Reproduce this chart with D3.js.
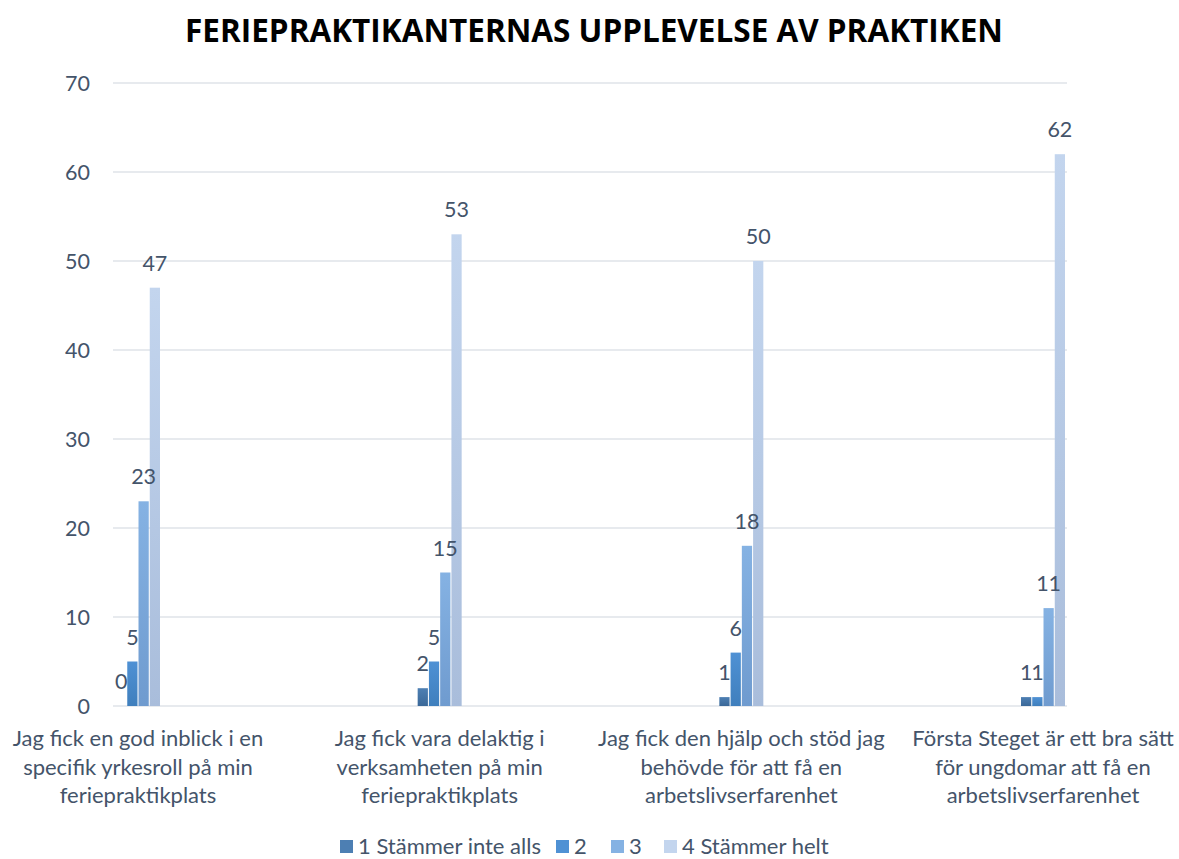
<!DOCTYPE html>
<html>
<head>
<meta charset="utf-8">
<script src="https://cdn.jsdelivr.net/npm/d3@7"></script>
<style>
  body { margin: 0; background: #fff; }
  text { font-family: Lato, "Open Sans", sans-serif; }
</style>
</head>
<body>
<svg width="1179" height="859"></svg>
<script>
// chart data
const categories = ['c1', 'c2', 'c3', 'c4'];
const categoryLabels = [
  ['Jag fick en god inblick i en', 'specifik yrkesroll på min', 'feriepraktikplats'],
  ['Jag fick vara delaktig i', 'verksamheten på min', 'feriepraktikplats'],
  ['Jag fick den hjälp och stöd jag', 'behövde för att få en', 'arbetslivserfarenhet'],
  ['Första Steget är ett bra sätt', 'för ungdomar att få en', 'arbetslivserfarenhet']
];
const seriesNames = ['1 Stämmer inte alls', '2', '3', '4 Stämmer helt'];
const s1 = [0, 2, 1, 1];
const s2 = [5, 5, 6, 1];
const s3 = [23, 15, 18, 11];
const s4 = [47, 53, 50, 62];
const yTicks = [0, 10, 20, 30, 40, 50, 60, 70];

const seriesValues = [s1, s2, s3, s4];
// light/dark ends of each bar gradient
const barColors = [
  ['#4d7fb3', '#3a6898'],
  ['#4f91d4', '#3f7fbd'],
  ['#85b2e3', '#6f9bcf'],
  ['#c3d5ee', '#a9bddb']
];

const svg = d3.select('svg');
const textColor = '#44546a';

// title
svg.append('text')
  .attr('x', 594).attr('y', 42)
  .attr('text-anchor', 'middle')
  .style('font-family', '"Open Sans", sans-serif')
  .style('font-weight', 'bold')
  .style('font-size', '31.5px')
  .attr('fill', '#000')
  .text('FERIEPRAKTIKANTERNAS UPPLEVELSE AV PRAKTIKEN');

// scales
const yScale = d3.scaleLinear().domain([0, 70]).range([706, 83]);
const xScale = d3.scalePoint().domain(categories).range([138, 1043]);
const xInner = d3.scaleBand().domain(d3.range(seriesNames.length))
  .range([-22, 22]).paddingInner(0.09);

// gradients
const defs = svg.append('defs');
barColors.forEach((c, i) => {
  const g = defs.append('linearGradient')
    .attr('id', 'grad' + i)
    .attr('x1', 0).attr('y1', 0).attr('x2', 0).attr('y2', 1);
  g.append('stop').attr('offset', '0%').attr('stop-color', c[0]);
  g.append('stop').attr('offset', '100%').attr('stop-color', c[1]);
});

// gridlines
svg.append('g').selectAll('line').data(yTicks).enter().append('line')
  .attr('x1', 113).attr('x2', 1067)
  .attr('y1', d => yScale(d)).attr('y2', d => yScale(d))
  .attr('stroke', '#dfe3e9').attr('stroke-width', 1.6);

// y axis labels
svg.append('g').selectAll('text').data(yTicks).enter().append('text')
  .attr('x', 90).attr('y', d => yScale(d) + 7.5)
  .attr('text-anchor', 'end')
  .style('font-size', '21.5px')
  .attr('fill', textColor)
  .text(d => d);

// flat list of cells: category index + series index
const cells = [];
categories.forEach((c, ci) => seriesValues.forEach((vals, si) => {
  cells.push({ cat: c, si: si, v: vals[ci] });
}));
const cx = d => xScale(d.cat) + xInner(d.si);

// bars
svg.append('g').selectAll('rect').data(cells).enter().append('rect')
  .attr('x', cx)
  .attr('width', xInner.bandwidth())
  .attr('y', d => yScale(d.v))
  .attr('height', d => yScale(0) - yScale(d.v))
  .attr('fill', d => `url(#grad${d.si})`);

// data labels (drawn on top of all bars)
svg.append('g').selectAll('text').data(cells).enter().append('text')
  .attr('x', d => cx(d) + xInner.bandwidth() / 2)
  .attr('y', d => yScale(d.v) - 17)
  .attr('text-anchor', 'middle')
  .style('font-size', '21.5px')
  .attr('fill', textColor)
  .text(d => d.v);

// category labels
const catText = svg.append('g').selectAll('text').data(categories).enter().append('text')
  .attr('text-anchor', 'middle')
  .style('font-size', '22px')
  .attr('fill', textColor);
catText.each(function (d, i) {
  d3.select(this).selectAll('tspan').data(categoryLabels[i]).enter().append('tspan')
    .attr('x', xScale(d))
    .attr('y', (l, j) => 746 + j * 28.5)
    .text(l => l);
});

// legend
const legendX = [340, 556, 611, 664];
const legend = svg.append('g').selectAll('g').data(seriesNames).enter().append('g')
  .attr('transform', (d, i) => `translate(${legendX[i]},840)`);
legend.append('rect')
  .attr('width', 13).attr('height', 13)
  .attr('fill', (d, i) => barColors[i][0]);
legend.append('text')
  .attr('x', 18).attr('y', 13.5)
  .style('font-size', '22px')
  .attr('fill', textColor)
  .text(d => d);
</script>
</body>
</html>
